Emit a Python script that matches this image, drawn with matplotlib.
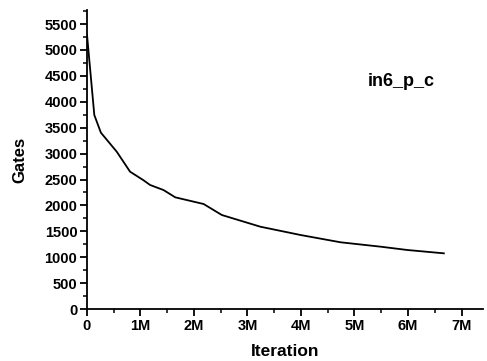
import matplotlib
matplotlib.use("Agg")
import matplotlib.pyplot as plt
from matplotlib.ticker import MultipleLocator, FuncFormatter

# iterations (millions) vs gate count
iteration_m = [0.0, 0.137, 0.26, 0.556, 0.805, 1.05, 1.18, 1.43, 1.65, 2.18,
               2.52, 2.87, 3.24, 3.99, 4.74, 5.49, 5.99, 6.67]
gates = [5300, 3745, 3404, 3037, 2651, 2490, 2394, 2297, 2156, 2027,
         1815, 1705, 1589, 1429, 1288, 1203, 1139, 1075]
circuit_name = "in6_p_c"

plt.rcParams['font.family'] = ['Liberation Sans', 'DejaVu Sans']
plt.rcParams['font.weight'] = 'bold'

fig = plt.figure(figsize=(4.87, 3.61), dpi=100)
ax = fig.add_axes([0.1786, 0.144, 0.813, 0.828])

ax.plot([x * 1e6 for x in iteration_m], gates, color='black', linewidth=1.3)

ax.set_xlim(0, 7.4e6)
ax.set_ylim(0, 5770)

ax.xaxis.set_major_locator(MultipleLocator(1e6))
ax.xaxis.set_minor_locator(MultipleLocator(0.5e6))
ax.yaxis.set_major_locator(MultipleLocator(500))
ax.yaxis.set_minor_locator(MultipleLocator(250))
ax.xaxis.set_major_formatter(FuncFormatter(lambda v, p: '0' if v == 0 else '%dM' % round(v / 1e6)))

for side in ['top', 'right']:
    ax.spines[side].set_visible(False)
for side in ['left', 'bottom']:
    ax.spines[side].set_linewidth(1.3)

ax.tick_params(which='major', direction='out', length=5, width=1.3, labelsize=10.5, pad=2)
ax.tick_params(which='minor', direction='out', length=3, width=1.1)

ax.set_xlabel('Iteration', fontsize=12.5, fontweight='bold', labelpad=8)
ax.set_ylabel('Gates', fontsize=12, fontweight='bold', labelpad=12)

ax.text(0.71, 0.745, circuit_name, transform=ax.transAxes, fontsize=13, fontweight='bold')

fig.savefig('out.png', dpi=100)
